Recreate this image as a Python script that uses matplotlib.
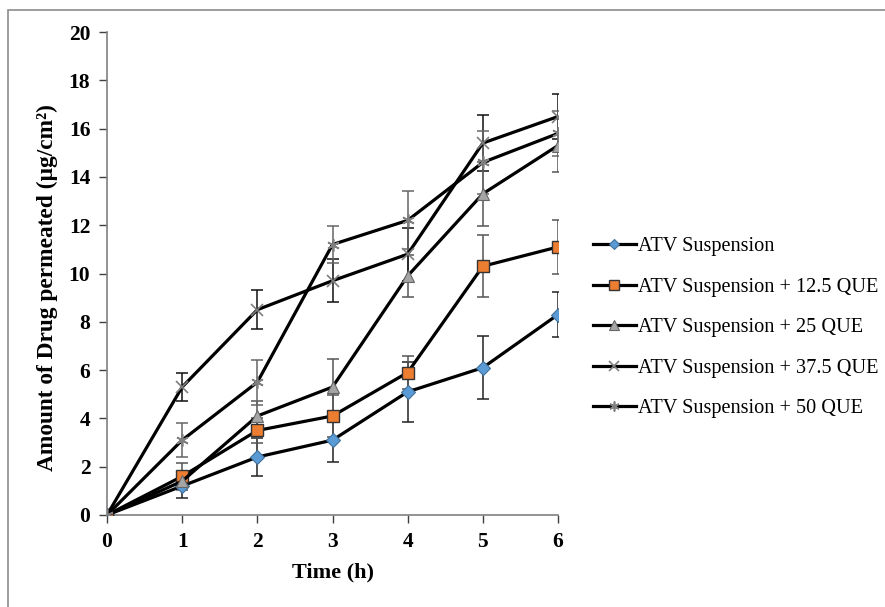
import matplotlib
matplotlib.use("Agg")
import matplotlib.pyplot as plt
from matplotlib.patches import Rectangle

plt.rcParams['font.family'] = ['Liberation Serif', 'DejaVu Serif']

time_h = [0, 1, 2, 3, 4, 5, 6]

atv = [0, 1.2, 2.4, 3.1, 5.1, 6.1, 8.3]
atv_err = [0, 0.5, 0.8, 0.9, 1.25, 1.3, 0.92]

que125 = [0, 1.6, 3.5, 4.1, 5.9, 10.3, 11.1]
que125_err = [0, 0.55, 0.5, 0.87, 0.7, 1.28, 1.1]

que25 = [0, 1.4, 4.1, 5.3, 9.9, 13.3, 15.3]
que25_err = [0, 0.3, 0.6, 1.16, 0.87, 1.33, 1.08]

que375 = [0, 5.3, 8.5, 9.7, 10.8, 15.4, 16.5]
que375_err = [0, 0.6, 0.8, 0.9, 1.1, 1.17, 0.93]

que50 = [0, 3.1, 5.5, 11.2, 12.2, 14.6, 15.8]
que50_err = [0, 0.7, 0.93, 0.78, 1.2, 1.3, 0.94]

labels = ["ATV Suspension", "ATV Suspension + 12.5 QUE", "ATV Suspension + 25 QUE",
          "ATV Suspension + 37.5 QUE", "ATV Suspension + 50 QUE"]

fig = plt.figure(figsize=(8.85, 6.07), dpi=100)
ax = fig.add_axes([107/885, 1 - 515/607, (558-107)/885, (515-32)/607])

series = [
    (atv, atv_err, dict(marker='D', ms=7, mfc='#5B9BD5', mec='#41719C', mew=0.8), '#222222'),
    (que125, que125_err, dict(marker='s', ms=8.5, mfc='#ED7D31', mec='#333333', mew=1.0), '#555555'),
    (que25, que25_err, dict(marker='^', ms=9, mfc='#A5A5A5', mec='#666666', mew=0.8), '#555555'),
    (que375, que375_err, dict(marker='x', ms=9, mfc='none', mec='#7F7F7F', mew=1.2), '#111111'),
    (que50, que50_err, dict(marker=(6, 2, 0), ms=9, mfc='none', mec='#7F7F7F', mew=1.2), '#666666'),
]

handles = []
for (vals, errs, mk, ecol), lab in zip(series, labels):
    ax.errorbar(time_h, vals, yerr=errs, fmt='none', ecolor=ecol, elinewidth=1.1,
                capsize=4.5, capthick=1.1, zorder=2)
    h, = ax.plot(time_h, vals, color='black', lw=2.3, zorder=3, label=lab, **mk)
    handles.append(h)

ax.set_xlim(0, 6)
ax.set_ylim(0, 20)
ax.set_xticks(range(0, 7))
ax.set_yticks(range(0, 21, 2))
for s in ['top', 'right']:
    ax.spines[s].set_visible(False)
for s in ['left', 'bottom']:
    ax.spines[s].set_color('#808080')
    ax.spines[s].set_linewidth(1.2)
ax.tick_params(axis='both', direction='out', length=6, width=1.0, color='#404040',
               labelsize=15.5, pad=6)
for t in ax.get_xticklabels() + ax.get_yticklabels():
    t.set_fontweight('bold')
ax.set_xlabel("Time (h)", fontsize=16, fontweight='bold', labelpad=8)
ax.set_ylabel("Amount of Drug permeated (µg/cm²)", fontsize=16.8, fontweight='bold')
ax.yaxis.set_label_coords(-0.108, 0.47)

leg = fig.legend(handles=handles, labels=labels, loc='upper left',
                 bbox_to_anchor=(593/885, 1 - 237/607), frameon=False,
                 fontsize=14.6, handlelength=2.1, handletextpad=0.12,
                 labelspacing=1.05, borderpad=0, borderaxespad=0, markerscale=0.8)

fig.patches.append(Rectangle((8/885, -0.5), 2.0, 1.5 - 10/607, transform=fig.transFigure,
                             fill=False, edgecolor='#8C8C8C', lw=1.2))

fig.savefig("out.png", dpi=100)
